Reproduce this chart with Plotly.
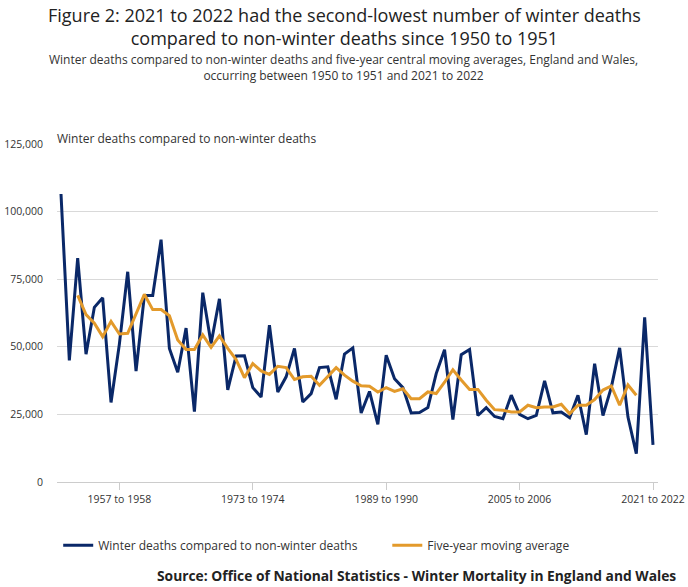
import plotly.graph_objects as go

# winter seasons 1950 to 1951 ... 2021 to 2022
start_years = list(range(1950, 2022))
seasons = [f"{y} to {y + 1}" for y in start_years]

winter_deaths = [106500, 45000, 82750, 47250, 64600, 68100, 29400, 51000, 77750, 41000,
                 69000, 69000, 89600, 49400, 40600, 56900, 26000, 70000, 51250, 67750,
                 34100, 46600, 46700, 34900, 31400, 58000, 33300, 38900, 49400, 29600,
                 32700, 42300, 42600, 30600, 47300, 49600, 25500, 33500, 21300, 46900,
                 38200, 34900, 25500, 25700, 27500, 40100, 48900, 23100, 47100, 49000,
                 24600, 27500, 24250, 23400, 32100, 25000, 23400, 24600, 37400, 25600,
                 25900, 23750, 32100, 17500, 43750, 24600, 35000, 49600, 24000, 10500,
                 60900, 13750]

moving_avg = [None, None, 69000, 61900, 58750, 53750, 59400, 54750, 55000, 62500,
              69400, 63750, 63750, 61500, 52500, 49000, 49000, 54400, 49750, 54000,
              49400, 45300, 38600, 43800, 41100, 39800, 42800, 42300, 37900, 38900,
              39100, 35800, 39100, 42300, 39500, 37300, 35600, 35400, 33300, 34900,
              33500, 34500, 30800, 30800, 33300, 32700, 36900, 41500, 37750, 34250,
              34250, 30250, 26750, 26500, 25900, 25900, 28400, 27500, 27750, 27750,
              28750, 25250, 28400, 28400, 30500, 34000, 35500, 28400, 35900, 32100,
              None, None]

tick_seasons = ["1957 to 1958", "1973 to 1974", "1989 to 1990", "2005 to 2006", "2021 to 2022"]
y_ticks = [0, 25000, 50000, 75000, 100000, 125000]

BLUE = "#0a2868"
ORANGE = "#e39a2b"
FONT = "Open Sans"

# plot area in pixels (for placing the free texts)
TOP, BOTTOM, LEFT, RIGHT = 144, 481.7, 57, 658
H = BOTTOM - TOP
W = RIGHT - LEFT


def py(pixel_y):
    return (BOTTOM - pixel_y) / H


def px_(pixel_x):
    return (pixel_x - LEFT) / W


fig = go.Figure()
# trailing no-break spaces widen the first legend entry so the second one lands where it should
fig.add_trace(go.Scatter(x=seasons, y=winter_deaths, mode="lines",
                         name="Winter deaths compared to non-winter deaths" + "\u00a0" * 8,
                         line=dict(color=BLUE, width=3)))
fig.add_trace(go.Scatter(x=seasons, y=moving_avg, mode="lines",
                         name="Five-year moving average",
                         line=dict(color=ORANGE, width=3)))

fig.update_layout(
    width=688, height=587,
    margin=dict(l=LEFT, r=688 - RIGHT, t=TOP, b=587 - BOTTOM),
    paper_bgcolor="white", plot_bgcolor="white",
    font=dict(family=FONT, color="#333333", size=11),
    showlegend=True,
    legend=dict(orientation="h", x=0.002, xanchor="left",
                y=py(545), yanchor="middle",
                font=dict(size=12, color="#333333")),
    hovermode=False,
)

fig.update_xaxes(type="category", range=[-0.48, 71.6], automargin=False,
                 tickmode="array", tickvals=tick_seasons, ticktext=tick_seasons,
                 ticks="outside", ticklen=7, tickcolor="#cccccc",
                 showline=False, showgrid=False, zeroline=False,
                 tickfont=dict(size=10.5, color="#333333"))
fig.update_yaxes(range=[0, 125000], tickvals=y_ticks, tickformat=",", automargin=False,
                 showgrid=True, gridcolor="#d9d9d9", gridwidth=1,
                 zeroline=True, zerolinecolor="#cccccc", zerolinewidth=1,
                 showline=False, ticks="", ticklabelstandoff=13,
                 tickfont=dict(size=10.5, color="#333333"))

fig.add_annotation(text="Figure 2: 2021 to 2022 had the second-lowest number of winter deaths<br>"
                        "compared to non-winter deaths since 1950 to 1951",
                   xref="paper", yref="paper", x=px_(344), y=py(27),
                   xanchor="center", yanchor="middle", showarrow=False,
                   font=dict(family=FONT, size=18, color="#222222"))
fig.add_annotation(text="Winter deaths compared to non-winter deaths and five-year central moving averages, England and Wales,<br>"
                        "occurring between 1950 to 1951 and 2021 to 2022",
                   xref="paper", yref="paper", x=px_(343), y=py(68),
                   xanchor="center", yanchor="middle", showarrow=False,
                   font=dict(family=FONT, size=12, color="#333333"))
fig.add_annotation(text="Winter deaths compared to non-winter deaths",
                   xref="paper", yref="paper", x=0, y=py(139),
                   xanchor="left", yanchor="middle", showarrow=False, xshift=-2,
                   font=dict(family=FONT, size=12, color="#333333"))
fig.add_annotation(text="<b>Source: Office of National Statistics - Winter Mortality in England and Wales</b>",
                   xref="paper", yref="paper", x=px_(678), y=py(575),
                   xanchor="right", yanchor="middle", showarrow=False,
                   font=dict(family=FONT, size=13.8, color="#222222"))

# drop the browser's default page margin so the figure sits at the window's corner
fig.write_html("out.html", config={"displayModeBar": False},
               post_script="document.body.style.margin='0';")
